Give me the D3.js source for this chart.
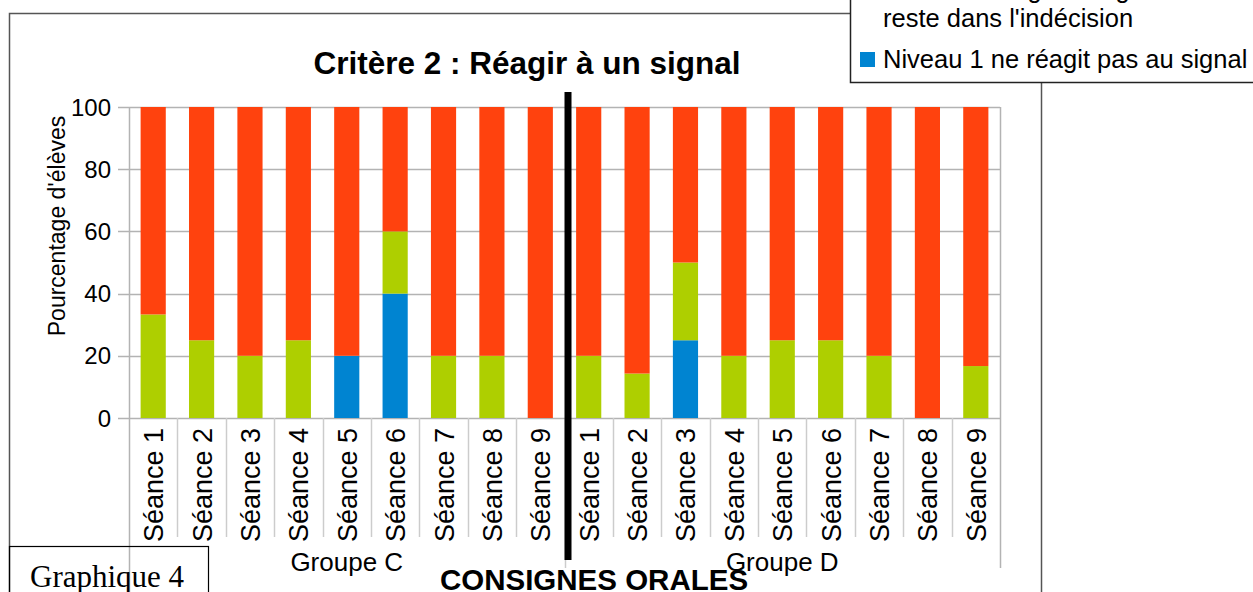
<!DOCTYPE html>
<html>
<head>
<meta charset="utf-8">
<script src="https://cdn.jsdelivr.net/npm/d3@7/dist/d3.min.js"></script>
<style>
  body { margin: 0; background: #fff; }
  svg { display: block; font-family: 'Liberation Sans', Arial, sans-serif; }
</style>
</head>
<body>
<div id="chart"></div>
<script>
// données (pourcentages)
const seances = ['Séance 1', 'Séance 2', 'Séance 3', 'Séance 4', 'Séance 5', 'Séance 6', 'Séance 7', 'Séance 8', 'Séance 9'];
const groups = ['Groupe C', 'Groupe D'];
const niveau1 = [0, 0, 0, 0, 20, 40, 0, 0, 0, 0, 0, 25, 0, 0, 0, 0, 0, 0];
const niveau2 = [33.3, 25, 20, 25, 0, 20, 20, 20, 0, 20, 14.3, 25, 20, 25, 25, 20, 0, 16.7];
const niveau3 = [66.7, 75, 80, 75, 80, 40, 80, 80, 100, 80, 85.7, 50, 80, 75, 75, 80, 100, 83.3];
const seriesKeys = ['n1', 'n2', 'n3'];
const seriesColors = ['#0084d1', '#aecf00', '#ff420e'];
const legendLabels = [
  ['Niveau 1 ne réagit pas au signal'],
  ['Niveau 2 réagit au signal mais', "reste dans l'indécision"],
  ['Niveau 3 réagit au signal']
];
const yTicks = [0, 20, 40, 60, 80, 100];

const width = 1253, height = 592;
const plot = { left: 129, right: 1000, top: 107, bottom: 418 };

const rows = [];
groups.forEach((g, gi) => {
  seances.forEach((s, si) => {
    const i = gi * seances.length + si;
    rows.push({ id: g + '|' + s, group: g, label: s, n1: niveau1[i], n2: niveau2[i], n3: niveau3[i] });
  });
});

const svg = d3.select('#chart').append('svg')
  .attr('width', width)
  .attr('height', height);

const x = d3.scaleBand()
  .domain(rows.map(d => d.id))
  .range([plot.left, plot.right])
  .paddingInner(0.48)
  .paddingOuter(0.24);

const y = d3.scaleLinear()
  .domain([0, 100])
  .range([plot.bottom, plot.top]);

const step = x.step();

// cadre extérieur
svg.append('rect')
  .attr('x', 9.5).attr('y', 13.5)
  .attr('width', 1032).attr('height', 640)
  .attr('fill', 'none')
  .attr('stroke', '#555')
  .attr('stroke-width', 1.5);

// grille horizontale
svg.append('g')
  .selectAll('line')
  .data(yTicks)
  .join('line')
  .attr('x1', plot.left - 11)
  .attr('x2', plot.right)
  .attr('y1', d => Math.round(y(d)) + 0.5)
  .attr('y2', d => Math.round(y(d)) + 0.5)
  .attr('stroke', '#b3b3b3')
  .attr('stroke-width', 1.5);

// axe vertical + bord droit
svg.append('line')
  .attr('x1', plot.left + 0.5).attr('x2', plot.left + 0.5)
  .attr('y1', plot.top).attr('y2', 592)
  .attr('stroke', '#b3b3b3').attr('stroke-width', 1.5);

svg.append('line')
  .attr('x1', plot.right + 0.5).attr('x2', plot.right + 0.5)
  .attr('y1', plot.top).attr('y2', 568)
  .attr('stroke', '#b3b3b3').attr('stroke-width', 1.5);

// séparateurs de catégories sous l'axe
svg.append('g')
  .selectAll('line')
  .data(d3.range(1, rows.length))
  .join('line')
  .attr('x1', i => Math.round(plot.left + i * step) + 0.5)
  .attr('x2', i => Math.round(plot.left + i * step) + 0.5)
  .attr('y1', plot.bottom)
  .attr('y2', i => (i === seances.length ? 568 : 537))
  .attr('stroke', '#cccccc')
  .attr('stroke-width', 1.5);

// libellés de l'axe Y
svg.append('g')
  .selectAll('text')
  .data(yTicks)
  .join('text')
  .attr('x', 111)
  .attr('y', d => y(d) + 8.5)
  .attr('text-anchor', 'end')
  .attr('font-size', 24)
  .attr('fill', '#000')
  .text(d => d);

svg.append('text')
  .attr('transform', 'translate(65,226) rotate(-90)')
  .attr('text-anchor', 'middle')
  .attr('font-size', 23)
  .text("Pourcentage d'élèves");

// barres empilées
const stacked = d3.stack().keys(seriesKeys)(rows);

svg.append('g')
  .selectAll('g')
  .data(stacked)
  .join('g')
  .attr('fill', (d, i) => seriesColors[i])
  .selectAll('rect')
  .data(d => d)
  .join('rect')
  .attr('x', d => x(d.data.id))
  .attr('width', x.bandwidth())
  .attr('y', d => y(d[1]))
  .attr('height', d => y(d[0]) - y(d[1]));

// libellés des séances
svg.append('g')
  .selectAll('text')
  .data(rows)
  .join('text')
  .attr('transform', d => `translate(${x(d.id) + x.bandwidth() / 2 + 10},428) rotate(-90)`)
  .attr('text-anchor', 'end')
  .attr('font-size', 27)
  .text(d => d.label);

// libellés des groupes
svg.append('g')
  .selectAll('text')
  .data(groups)
  .join('text')
  .attr('x', (g, gi) => plot.left + (gi + 0.5) * seances.length * step)
  .attr('y', 571)
  .attr('text-anchor', 'middle')
  .attr('font-size', 26)
  .text(d => d);

// trait noir de séparation
svg.append('rect')
  .attr('x', plot.left + seances.length * step)
  .attr('y', 92)
  .attr('width', 7)
  .attr('height', 468)
  .attr('fill', '#000');

// titre
svg.append('text')
  .attr('x', 527)
  .attr('y', 74)
  .attr('text-anchor', 'middle')
  .attr('font-size', 31.5)
  .attr('font-weight', 'bold')
  .text('Critère 2 : Réagir à un signal');

svg.append('text')
  .attr('x', 594)
  .attr('y', 590)
  .attr('text-anchor', 'middle')
  .attr('font-size', 29.5)
  .attr('font-weight', 'bold')
  .text('CONSIGNES ORALES');

// cartouche "Graphique 4"
svg.append('rect')
  .attr('x', 9.5).attr('y', 546.5)
  .attr('width', 199).attr('height', 60)
  .attr('fill', 'none')
  .attr('stroke', '#000')
  .attr('stroke-width', 1.2);

svg.append('text')
  .attr('x', 30)
  .attr('y', 587)
  .attr('font-family', "'Liberation Serif', 'Times New Roman', serif")
  .attr('font-size', 31)
  .text('Graphique 4');

// légende (le haut sort de la page, comme sur l'original)
const legend = svg.append('g');
legend.append('rect')
  .attr('x', 850.5).attr('y', -90)
  .attr('width', 420).attr('height', 172.5)
  .attr('fill', '#fff')
  .attr('stroke', '#222')
  .attr('stroke-width', 1.5);

// lignes de base de chaque entrée
const legendBaselines = [[68], [-2, 27], [-45]];
legendLabels.forEach((lines, i) => {
  legend.append('rect')
    .attr('x', 860).attr('y', legendBaselines[i][0] - 16)
    .attr('width', 15).attr('height', 15)
    .attr('fill', seriesColors[i]);
  lines.forEach((t, li) => {
    legend.append('text')
      .attr('x', 883)
      .attr('y', legendBaselines[i][li])
      .attr('font-size', 25.5)
      .text(t);
  });
});
</script>
</body>
</html>
